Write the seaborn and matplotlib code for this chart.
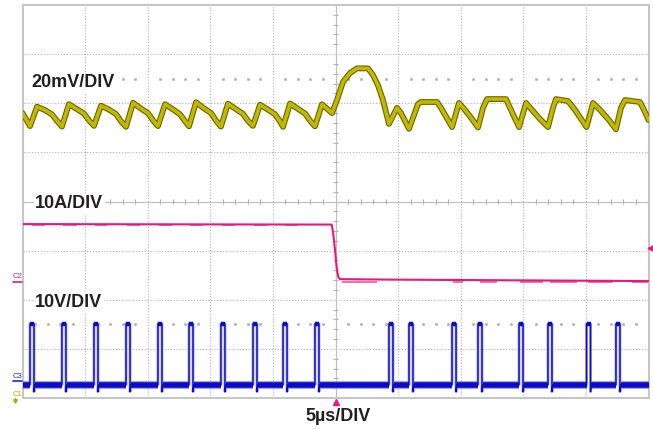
import pandas as pd
import seaborn as sns
import matplotlib
matplotlib.use("Agg")
import matplotlib.pyplot as plt
from matplotlib.lines import Line2D

# Scope capture: load step release, 5 us/div, trigger at t = 0
# time in us, each channel in its own units, then moved to screen divisions

# C1 - output voltage ripple (AC coupled), mV
yellow_t = [-25.0,
            -24.40, -23.84, -23.20, -22.64, -22.24,
            -21.85, -21.29, -20.65, -20.09, -19.69,
            -19.29, -18.73, -18.09, -17.53, -17.13,
            -16.73, -16.17, -15.53, -14.97, -14.57,
            -14.18, -13.62, -12.98, -12.42, -12.02,
            -11.70, -11.14, -10.50, -9.94, -9.54,
            -9.15, -8.59, -7.95, -7.39, -6.99,
            -6.59, -6.03, -5.39, -4.83, -4.43,
            -4.19, -3.63, -2.99, -2.43, -2.03,
            -1.64, -1.08, -0.68, -0.28, 0.12, 0.60, 1.16, 1.72, 2.60, 2.99, 3.39, 3.79,
            4.27, 4.91, 5.23, 5.87, 6.27, 6.59, 6.83, 8.11, 8.43,
            9.31, 9.86, 10.34, 10.90, 11.38, 11.78, 12.10, 13.62, 13.94,
            14.66, 15.22, 15.69, 16.33, 16.97, 17.37, 17.61, 18.57, 19.13,
            20.05, 20.57, 21.13, 21.84, 22.40, 22.80, 23.12, 24.32, 24.64, 25.0]
yellow_mv = [1.0,
             -4.3, 3.6, 2.2, 0.4, -2.2,
             -4.5, 4.6, 2.6, 0.8, -2.0,
             -4.2, 4.0, 2.4, 0.6, -2.4,
             -4.6, 5.2, 2.8, 0.9, -2.0,
             -4.3, 4.6, 2.5, 0.5, -2.3,
             -4.4, 5.4, 2.9, 1.0, -2.1,
             -4.5, 4.8, 2.6, 0.7, -2.2,
             -4.2, 4.4, 2.4, 0.5, -2.4,
             -4.6, 4.9, 2.7, 0.8, -2.1,
             -4.4, 4.6, 2.8, 1.0, 6.3, 13.7, 17.3, 19.2, 19.2, 16.5, 12.4, 6.3,
             -3.4, 3.1, 1.0, -5.4, 0.2, 4.7, 5.5, 5.5, 3.1,
             -4.7, 5.1, 2.3, -1.4, -4.9, 3.1, 6.7, 6.7, 3.1,
             -4.7, 5.1, 2.3, -1.4, -4.7, 3.1, 6.7, 5.9, 2.3,
             -4.7, 5.1, 2.3, -1.8, -5.6, 3.1, 6.3, 5.5, 2.3, -1.8]
yellow_offset = 1.75   # div
yellow_scale = 20.0    # mV/div

# C2 - load current, A
pink_t = [-25.0, -0.30, -0.18, -0.04, 0.10, 0.22, 0.36, 4.35, 25.0]
pink_a = [11.7, 11.6, 9.8, 6.4, 2.7, 1.0, 0.5, 0.4, 0.1]
pink_offset = -1.63
pink_scale = 10.0
# switching noise smears under the current trace
pink_noise_start = [-24.24, -21.77, -19.21, -16.65, -14.10, -11.62, -9.07, -6.51, -4.03,
                    0.52, 9.38, 11.54, 14.74, 17.13, 20.17, 23.68]
pink_noise_end = [-23.20, -20.65, -18.25, -15.62, -13.06, -10.58, -8.03, -5.47, -3.08,
                  3.31, 10.18, 12.90, 16.57, 19.29, 22.16, 24.96]

# C3 - switch node, V
blue_rise = [-24.40, -21.85, -19.29, -16.73, -14.18, -11.70, -9.15, -6.59, -4.19, -1.64,
             4.27, 5.87, 9.31, 11.38, 14.66, 16.97, 20.05, 22.40]
blue_width = 0.32
blue_top = 11.6
blue_base = -0.8
blue_dip = -2.2
blue_offset = -3.65
blue_scale = 10.0

c_yellow = "#c2b800"
c_yellow_dark = "#6a6400"
c_pink = "#e9177f"
c_blue = "#0c0cc8"
c_blue_light = "#9898ea"
c_text = "#231f20"

sns.set_style("white")
plt.rcParams['font.family'] = ['Liberation Sans', 'DejaVu Sans']

fig = plt.figure(figsize=(6.53, 4.29), dpi=100)
ax = fig.add_axes([22.5 / 653, 1 - 398 / 429, 626 / 653, 393 / 429])
ax.set_xlim(-25, 25)
ax.set_ylim(-4, 4)
ax.set_xticks([])
ax.set_yticks([])
for s in ax.spines.values():
    s.set_color("#c6c6c6")
    s.set_linewidth(1.5)

# graticule
grid_kw = dict(color="#b4b4b4", lw=0.8, ls=(0, (1, 1.6)), zorder=0)
for gx in [-20, -15, -10, -5, 5, 10, 15, 20]:
    ax.axvline(gx, **grid_kw)
for gy in [-3, -2, -1, 1, 2, 3]:
    ax.axhline(gy, **grid_kw)
ax.axhline(0, color="#c0c0c0", lw=0.9, zorder=0)
ax.axvline(0, color="#c0c0c0", lw=0.9, zorder=0)
minor_x = [i for i in range(-24, 25) if i % 5 != 0]
minor_y = [i / 5 for i in range(-19, 20) if i % 5 != 0]
ax.vlines(minor_x, -0.05, 0.05, color="#b0b0b0", lw=0.8, zorder=0)
ax.hlines(minor_y, -0.2, 0.2, color="#b0b0b0", lw=0.8, zorder=0)
for row in [2.5, -2.5]:
    ax.plot(minor_x, [row] * len(minor_x), ls="none", marker="s", ms=1.0,
            color="#b4b4b4", zorder=0)

# C1 trace
df_y = pd.DataFrame({"t": yellow_t,
                     "div": [yellow_offset + v / yellow_scale for v in yellow_mv]})
sns.lineplot(data=df_y, x="t", y="div", sort=False, estimator=None,
             color=c_yellow_dark, lw=4.2, ax=ax, zorder=3)
sns.lineplot(data=df_y, x="t", y="div", sort=False, estimator=None,
             color=c_yellow, lw=2.6, ax=ax, zorder=4)

# C2 trace
df_p = pd.DataFrame({"t": pink_t,
                     "div": [pink_offset + a / pink_scale for a in pink_a]})
sns.lineplot(data=df_p, x="t", y="div", sort=False, estimator=None,
             color=c_pink, lw=1.5, ax=ax, zorder=3)
noise_lvl = [pink_offset + (pink_a[0] if s < 0 else pink_a[-1]) / pink_scale - 0.025
             for s in pink_noise_start]
ax.hlines(noise_lvl, pink_noise_start, pink_noise_end, color=c_pink, lw=1.1,
          alpha=0.8, zorder=3)

# C3 trace
rows = []
for i, p in enumerate(blue_rise):
    for tt, vv in [(p, blue_base), (p, blue_top), (p + blue_width, blue_top),
                   (p + blue_width, blue_dip), (p + blue_width + 0.06, blue_base)]:
        rows.append({"pulse": i, "t": tt, "div": blue_offset + vv / blue_scale})
df_b = pd.DataFrame(rows)
sns.lineplot(data=df_b, x="t", y="div", units="pulse", sort=False, estimator=None,
             color=c_blue_light, lw=2.0, ax=ax, zorder=3)
sns.lineplot(data=df_b, x="t", y="div", units="pulse", sort=False, estimator=None,
             color=c_blue, lw=1.0, ax=ax, zorder=4)
top_div = blue_offset + blue_top / blue_scale
ax.hlines([top_div] * len(blue_rise), blue_rise, [p + blue_width for p in blue_rise],
          color=c_blue, lw=3.2, zorder=4)
base_div = blue_offset + blue_base / blue_scale
seg_start = [-25.0] + [p + blue_width + 0.06 for p in blue_rise]
seg_end = blue_rise + [25.0]
ax.hlines([base_div] * len(seg_start), seg_start, seg_end, color=c_blue_light, lw=5.6, zorder=3)
ax.hlines([base_div] * len(seg_start), seg_start, seg_end, color=c_blue, lw=4.0, zorder=4)

# scale labels
lab_kw = dict(ha="left", va="baseline", fontsize=13, fontweight="bold", color=c_text,
              zorder=6, bbox=dict(fc="white", ec="none", pad=1.0))
ax.text(-24.32, 2.325, "20mV/DIV", **lab_kw)
ax.text(-24.0, -0.138, "10A/DIV", **lab_kw)
ax.text(-24.0, -2.147, "10V/DIV", **lab_kw)
fig.text(338 / 653, 1 - 421 / 429, "5\u00b5s/DIV", ha="center", va="baseline",
         fontsize=13, fontweight="bold", color=c_text)

# trigger markers
ax.plot([0], [-4.08], marker="^", ms=4, color=c_pink, clip_on=False, zorder=6)
ax.plot([25.15], [-0.95], marker="<", ms=3.5, color=c_pink, clip_on=False, zorder=6)

# channel ground markers in the left margin
for name, col, ty, ly in [("C2", c_pink, 278, 281.7), ("C3", "#2323d8", 378, 380.7)]:
    fig.text(12.7 / 653, 1 - ty / 429, name, fontsize=5.5, color=col, va="baseline")
    fig.add_artist(Line2D([12.7 / 653, 21.7 / 653], [1 - ly / 429] * 2, color=col,
                          lw=1.2, transform=fig.transFigure))
fig.text(12.7 / 653, 1 - 395.5 / 429, "C1", fontsize=5.5, color="#b3a800", va="baseline")
# C1 ground is below the screen: small down arrow
fig.add_artist(Line2D([14.7 / 653, 14.7 / 653], [1 - 397.5 / 429, 1 - 400.5 / 429],
                      color="#b3a800", lw=0.9, transform=fig.transFigure))
fig.add_artist(Line2D([14.7 / 653], [1 - 401 / 429], marker="v", ms=2.6,
                      color="#b3a800", transform=fig.transFigure))

fig.savefig("out.png", dpi=100)
